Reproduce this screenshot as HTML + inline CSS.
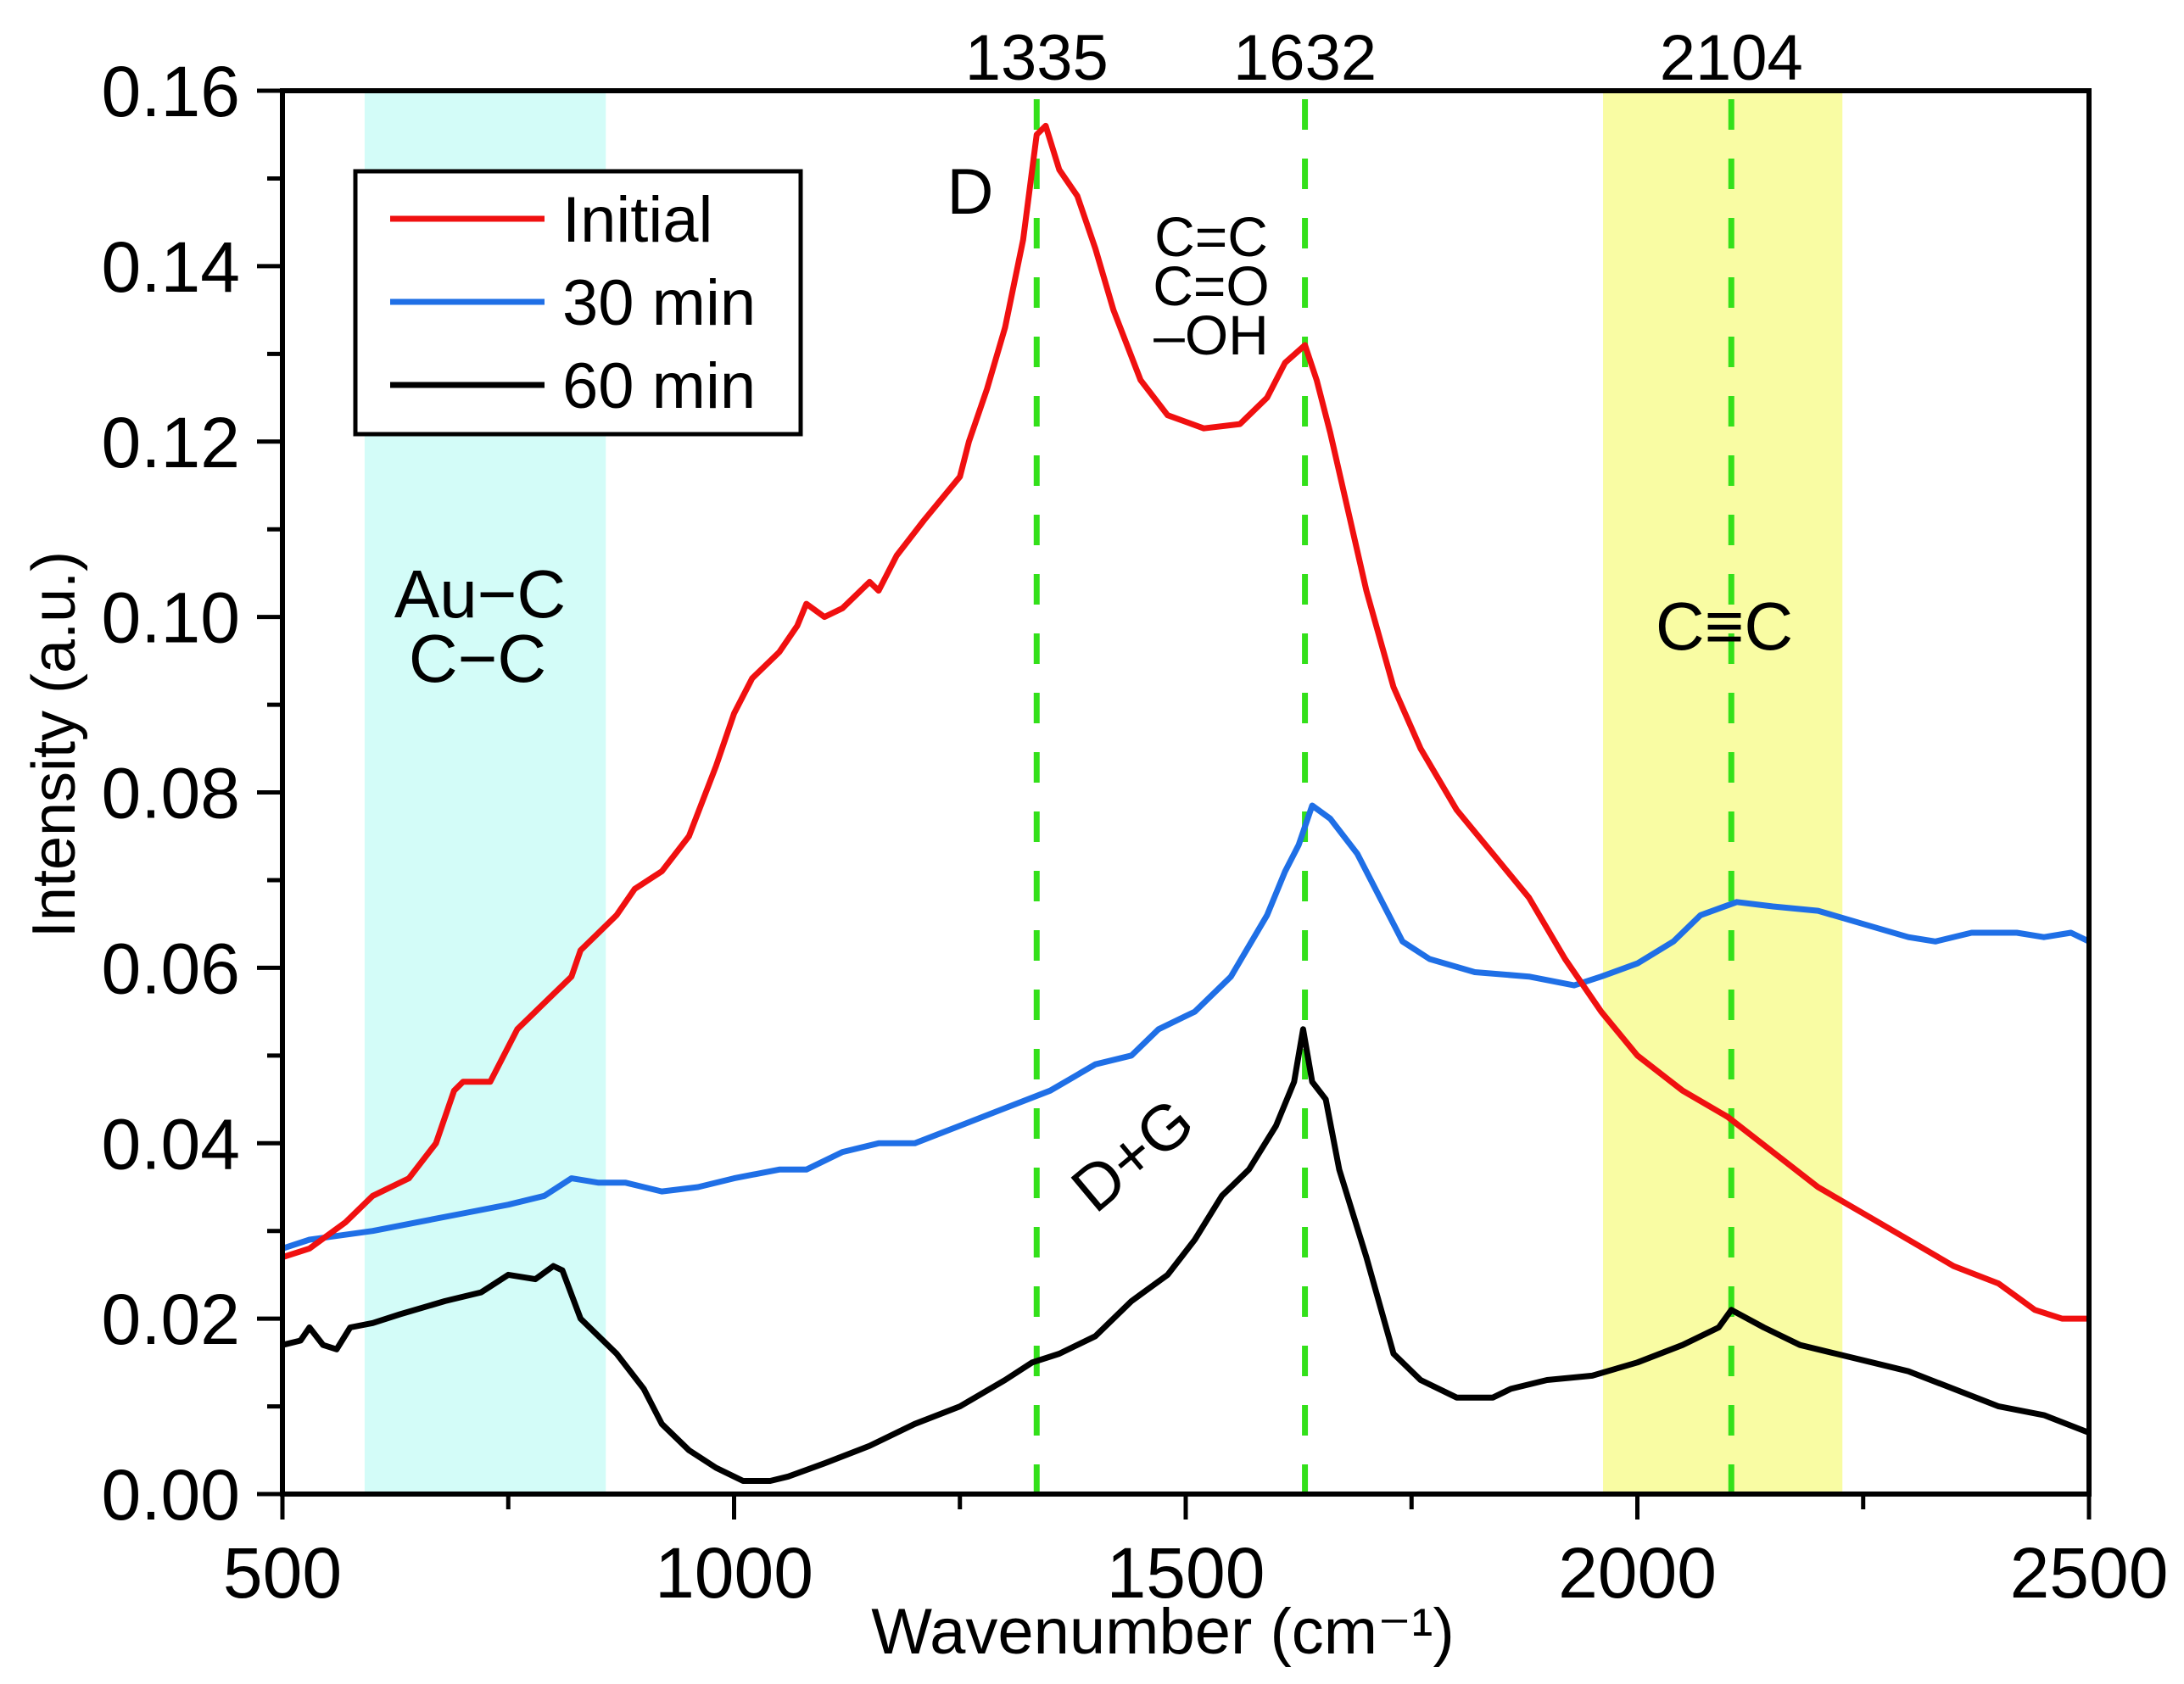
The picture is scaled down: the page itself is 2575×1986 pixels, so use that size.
<!DOCTYPE html>
<html><head><meta charset="utf-8"><style>
html,body{margin:0;padding:0;background:#fff}
svg{display:block;font-family:"Liberation Sans",Arial,sans-serif}
</style></head><body>
<svg id="chart" width="2575" height="1986" viewBox="0 0 2575 1986" xmlns="http://www.w3.org/2000/svg">
<g id="bands"></g><g id="peaks"></g><g id="series"></g><g id="axes"></g><g id="labels"></g>
</svg>
<script>
const xTicks=[500,1000,1500,2000,2500];
const yTicks=[0,0.02,0.04,0.06,0.08,0.10,0.12,0.14,0.16];
const yTickLabels=["0.00","0.02","0.04","0.06","0.08","0.10","0.12","0.14","0.16"];
const peakPositions=[1335,1632,2104];
const bandCyan=[591,858];
const bandYellow=[1962,2227];
const initialX=[500,530,570,600,640,670,690,700,730,760,800,820,830,850,870,890,920,950,980,1000,1020,1050,1070,1080,1100,1120,1150,1160,1180,1210,1250,1260,1280,1300,1320,1335,1345,1360,1380,1400,1420,1450,1480,1520,1560,1590,1610,1632,1645,1660,1680,1700,1730,1760,1800,1840,1880,1920,1960,2000,2050,2100,2150,2200,2250,2300,2350,2400,2440,2470,2500];
const initialY=[0.027,0.028,0.031,0.034,0.036,0.040,0.046,0.047,0.047,0.053,0.057,0.059,0.062,0.064,0.066,0.069,0.071,0.075,0.083,0.089,0.093,0.096,0.099,0.1015,0.100,0.101,0.104,0.103,0.107,0.111,0.116,0.120,0.126,0.133,0.143,0.155,0.156,0.151,0.148,0.142,0.135,0.127,0.123,0.1215,0.122,0.125,0.129,0.131,0.127,0.121,0.112,0.103,0.092,0.085,0.078,0.073,0.068,0.061,0.055,0.050,0.046,0.043,0.039,0.035,0.032,0.029,0.026,0.024,0.021,0.020,0.020];
const min30X=[500,530,600,650,700,750,790,820,850,880,920,960,1000,1050,1080,1120,1160,1200,1250,1300,1350,1400,1440,1470,1510,1550,1590,1610,1625,1640,1660,1690,1720,1740,1770,1820,1880,1930,1960,2000,2040,2070,2110,2150,2200,2250,2300,2330,2370,2420,2450,2480,2500];
const min30Y=[0.028,0.029,0.030,0.031,0.032,0.033,0.034,0.036,0.0355,0.0355,0.0345,0.035,0.036,0.037,0.037,0.039,0.040,0.040,0.042,0.044,0.046,0.049,0.050,0.053,0.055,0.059,0.066,0.071,0.074,0.0785,0.077,0.073,0.067,0.063,0.061,0.0595,0.059,0.058,0.059,0.0605,0.063,0.066,0.0675,0.067,0.0665,0.065,0.0635,0.063,0.064,0.064,0.0635,0.064,0.063];
const min60X=[500,520,530,545,560,575,600,630,680,720,750,780,800,810,830,870,900,920,950,980,1010,1040,1060,1100,1150,1200,1250,1300,1330,1360,1400,1440,1480,1510,1540,1570,1600,1620,1630,1640,1655,1670,1700,1730,1760,1800,1840,1860,1900,1950,2000,2050,2090,2104,2140,2180,2220,2260,2300,2350,2400,2450,2500];
const min60Y=[0.017,0.0175,0.019,0.017,0.0165,0.019,0.0195,0.0205,0.022,0.023,0.025,0.0245,0.026,0.0255,0.020,0.016,0.012,0.008,0.005,0.003,0.0015,0.0015,0.002,0.0035,0.0055,0.008,0.010,0.013,0.015,0.016,0.018,0.022,0.025,0.029,0.034,0.037,0.042,0.047,0.053,0.047,0.045,0.037,0.027,0.016,0.013,0.011,0.011,0.012,0.013,0.0135,0.015,0.017,0.019,0.021,0.019,0.017,0.016,0.015,0.014,0.012,0.010,0.009,0.007];

const L=333,R=2463,T=107,B=1762;
const X=v=>L+(v-500)/2000*(R-L);
const Y=v=>B-v/0.16*(B-T);
const NS="http://www.w3.org/2000/svg";
function mk(tag,parent,attrs){const e=document.createElementNS(NS,tag);for(const k in attrs)e.setAttribute(k,attrs[k]);document.getElementById(parent).appendChild(e);return e;}

let r=mk('rect','bands',{x:X(bandCyan[0]),y:T,width:X(bandCyan[1])-X(bandCyan[0]),height:B-T,fill:'#d3fcf8'});


r=mk('rect','bands',{x:X(bandYellow[0]),y:T,width:X(bandYellow[1])-X(bandYellow[0]),height:B-T,fill:'#f9fca3'});



peakPositions.forEach(p=>{
 const l=mk('line','peaks',{x1:X(p),x2:X(p),y1:T+10,y2:B,stroke:'#33e01a','stroke-width':7,'stroke-dasharray':'36,34'});
 
 
 const t=mk('text','peaks',{x:X(p),y:94,'font-size':76,'text-anchor':'middle',fill:'#000'});
 t.textContent=p;
 
 
});

function series(xs,ys,color,name){
 const d=xs.map((x,i)=>(i?'L':'M')+X(x).toFixed(1)+','+Y(ys[i]).toFixed(1)).join('');
 const p=mk('path','series',{d:d,fill:'none',stroke:color,'stroke-width':7,'stroke-linejoin':'round'});
 
 
}
series(min60X,min60Y,'#000','series-60-min');
series(min30X,min30Y,'#1f6fe6','series-30-min');
series(initialX,initialY,'#f01010','series-initial');

let a=mk('rect','axes',{x:L,y:T,width:R-L,height:B-T,fill:'none',stroke:'#000','stroke-width':6});


for(let v=500;v<=2500;v+=250){const maj=v%500===0;
 mk('line','axes',{x1:X(v),x2:X(v),y1:B,y2:B+(maj?30:18),stroke:'#000','stroke-width':5});}
xTicks.forEach(v=>{const t=mk('text','axes',{x:X(v),y:1884,'font-size':84,'text-anchor':'middle'});t.textContent=v;
 
 });
for(let i=0;i<=16;i++){const v=i*0.01,maj=i%2===0;
 mk('line','axes',{x1:L,x2:L-(maj?30:18),y1:Y(v),y2:Y(v),stroke:'#000','stroke-width':5});}
yTicks.forEach((v,i)=>{const t=mk('text','axes',{x:283,y:Y(v)+30,'font-size':84,'text-anchor':'end'});t.textContent=yTickLabels[i];
 
 });
let t=mk('text','axes',{x:1371,y:1950,'font-size':76,'text-anchor':'middle'});
t.textContent='Wavenumber (cm\u207B\u00B9)';


t=mk('text','axes',{x:0,y:0,'font-size':72,'text-anchor':'middle',transform:'translate(88,878) rotate(-90)'});
t.textContent='Intensity (a.u.)';



let lg=mk('rect','labels',{x:419,y:202,width:525,height:310,fill:'#fff',stroke:'#000','stroke-width':5});


[['Initial','#f01010'],['30 min','#1f6fe6'],['60 min','#000']].forEach((e,i)=>{
 const y=258+i*98;
 const l=mk('line','labels',{x1:460,x2:642,y1:y,y2:y,stroke:e[1],'stroke-width':7});
 
 
 const tx=mk('text','labels',{x:663,y:y+27,'font-size':76});tx.textContent=e[0];
 
 
});

function ann(txt,x,y,fs,name,extra){const e=mk('text','labels',Object.assign({x:x,y:y,'font-size':fs,'text-anchor':'middle'},extra||{}));e.textContent=txt;
 
 }
ann('D',1144,252,76,'annotation-d');
ann('C=C',1428,302,66,'annotation-c-double-c');
ann('C=O',1428,360,66,'annotation-c-double-o');
ann('\u2013OH',1428,418,66,'annotation-oh');
ann('Au\u2212C',566,728,80,'annotation-au-c');
ann('C\u2212C',563,804,80,'annotation-c-c');
ann('C\u2261C',2033,766,80,'annotation-c-triple-c');
ann('D+G',0,0,76,'annotation-d-plus-g',{transform:'translate(1352,1382) rotate(-40)'});
</script>
</body></html>
